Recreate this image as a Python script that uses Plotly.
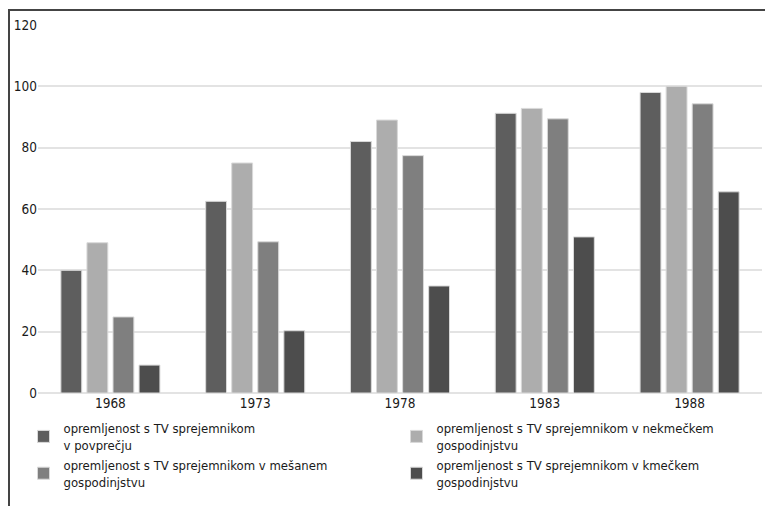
import plotly.graph_objects as go

years = ["1968", "1973", "1978", "1983", "1988"]
series_names = [
    "opremljenost s TV sprejemnikom<br>v povprečju",
    "opremljenost s TV sprejemnikom v nekmečkem<br>gospodinjstvu",
    "opremljenost s TV sprejemnikom v mešanem<br>gospodinjstvu",
    "opremljenost s TV sprejemnikom v kmečkem<br>gospodinjstvu",
]
povprecje = [40, 62.5, 82, 91.2, 98]
nekmecko = [49, 75, 89, 92.8, 100]
mesano = [24.8, 49.3, 77.4, 89.4, 94.3]
kmecko = [9.1, 20.3, 34.9, 50.9, 65.6]
values = [povprecje, nekmecko, mesano, kmecko]
colors = ["#5e5e5e", "#adadad", "#7f7f7f", "#4d4d4d"]
y_ticks = [0, 20, 40, 60, 80, 100, 120]

FONT = "DejaVu Sans Condensed, Liberation Sans Narrow, sans-serif"

fig = go.Figure()
for name, vals, col in zip(series_names, values, colors):
    fig.add_trace(go.Bar(
        x=years, y=vals, name=name,
        marker=dict(color=col, line=dict(color="#d9d9d9", width=1)),
    ))

# page body has an 8px margin: figure origin sits at screen (8, 8)
OFF = 8
W, H = 773 - OFF, 506 - OFF
# plot area in screen px: x 38..762, y 25..393
ml = 38 - OFF
mt = 25 - OFF
mr = W - (762 - OFF)
mb = H - (393 - OFF)
pw, ph = W - ml - mr, H - mt - mb

def px_x(sx):
    return (sx - OFF - ml) / pw

def px_y(sy):
    return 1 - (sy - OFF - mt) / ph

fig.update_layout(
    width=W, height=H,
    margin=dict(l=ml, r=mr, t=mt, b=mb, pad=0, autoexpand=False),
    paper_bgcolor="white", plot_bgcolor="white",
    font=dict(family=FONT, size=14, color="#1a1a1a"),
    barmode="group", bargap=0.28, bargroupgap=0.2,
    showlegend=True,
    legend=dict(
        orientation="h", x=px_x(23.5), xanchor="left",
        y=px_y(413), yanchor="top",
        entrywidth=328, entrywidthmode="pixels",
        itemwidth=30, tracegroupgap=0,
        font=dict(family=FONT, size=13, color="#1a1a1a"),
        bgcolor="rgba(0,0,0,0)", borderwidth=0,
        itemclick=False, itemdoubleclick=False,
    ),
    xaxis=dict(
        showgrid=False, showline=False, ticks="", zeroline=False,
        automargin=False,
        tickfont=dict(family=FONT, size=13.5),
    ),
    yaxis=dict(
        range=[0, 120], tickvals=y_ticks, showgrid=True,
        gridcolor="#e3e3e3", gridwidth=1.5, zeroline=True,
        zerolinecolor="#e3e3e3", zerolinewidth=1.5, showline=False, ticks="",
        automargin=False,
        tickfont=dict(family=FONT, size=13.5),
    ),
    shapes=[
        dict(type="line", xref="paper", yref="paper",
             x0=px_x(9), x1=px_x(9), y0=px_y(10), y1=px_y(506),
             line=dict(color="#444444", width=2)),
        dict(type="line", xref="paper", yref="paper",
             x0=px_x(8), x1=px_x(773), y0=px_y(10), y1=px_y(10),
             line=dict(color="#444444", width=2)),
    ],
)

fig.write_html("out.html")
